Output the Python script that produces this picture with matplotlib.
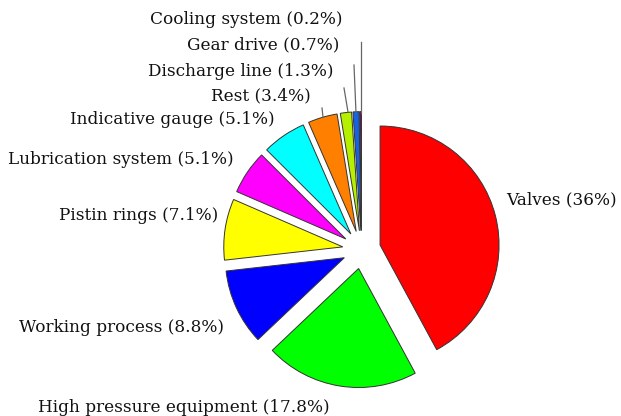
import numpy as np
import matplotlib.pyplot as plt

# Shares as printed on the chart (they don't add up to 100, pie normalises)
labels = ['Valves', 'High pressure equipment', 'Working process', 'Pistin rings',
          'Lubrication system', 'Indicative gauge', 'Rest', 'Discharge line',
          'Gear drive', 'Cooling system']
values = [36, 17.8, 8.8, 7.1, 5.1, 5.1, 3.4, 1.3, 0.7, 0.2]
value_text = ['36', '17.8', '8.8', '7.1', '5.1', '5.1', '3.4', '1.3', '0.7', '0.2']
colors = ['#FF0000', '#00FF00', '#0000FF', '#FFFF00', '#FF00FF', '#00FFFF',
          '#FF8000', '#B4F000', '#1464E6', '#7A1060']

W, H = 621, 416
cx, cy, r = 361.6, 249.7, 119.0   # pie centre / radius in pixels


def to_data(px, py):
    return (px - cx) / r, (cy - py) / r


# label centres in pixels (layout only)
label_pos = [(561, 200), (184, 408), (122, 328), (139, 216), (121, 159),
             (172, 120), (261, 96), (241, 71), (263, 45), (246, 20)]
# leader lines for the thin slices, pixels
leaders = {9: ((361, 113), (361, 42)),
           8: ((356, 113), (354, 65)),
           7: ((348, 112), (344, 88)),
           6: ((323, 117), (322, 108))}

fig = plt.figure(figsize=(W / 100, H / 100), dpi=100)
ax = fig.add_axes([0, 0, 1, 1])

ax.pie(values, colors=colors, startangle=90, counterclock=False,
       explode=[0.16] * len(values), radius=1.0, center=(0, 0),
       wedgeprops=dict(edgecolor='#333333', linewidth=0.7), frame=True)
ax.set_xlim(-cx / r, (W - cx) / r)
ax.set_ylim(-(H - cy) / r, cy / r)
ax.axis('off')

for i, (lab, vt) in enumerate(zip(labels, value_text)):
    x, y = to_data(*label_pos[i])
    ax.text(x, y, f'{lab} ({vt}%)', ha='center', va='center',
            family='DejaVu Serif', fontsize=12.2, color='#111111')

for i, (p0, p1) in leaders.items():
    x0, y0 = to_data(*p0)
    x1, y1 = to_data(*p1)
    ax.plot([x0, x1], [y0, y1], color='#666666', lw=0.9)

fig.savefig('out.png', dpi=100)
